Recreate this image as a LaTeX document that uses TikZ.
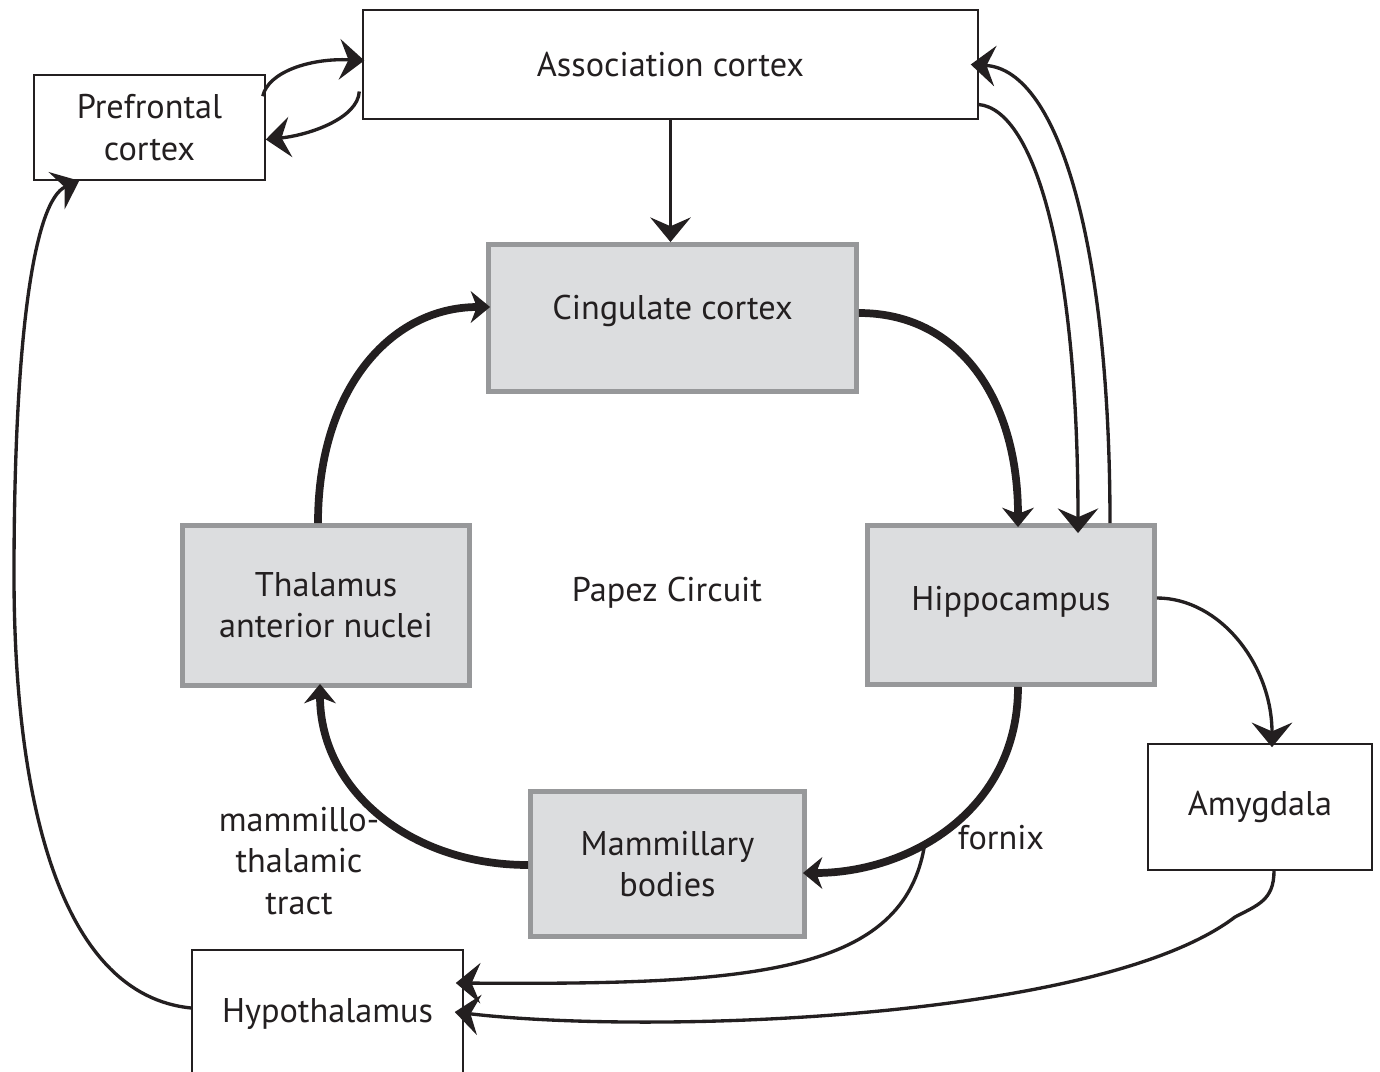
\documentclass[tikz,border=0pt]{standalone}
\usepackage{fontspec}
\setmainfont{PT Sans}
\usetikzlibrary{arrows.meta,calc}

\definecolor{inkblack}{HTML}{231F20}
\definecolor{circuitgray}{HTML}{DCDDDF}
\definecolor{circuitedge}{HTML}{97989A}

\tikzset{
	plainbox/.style={draw=inkblack, line width=0.9pt, fill=white, inner sep=0pt, align=center},
	circuitbox/.style={draw=circuitedge, line width=2.8pt, fill=circuitgray, inner sep=0pt, align=center},
	thinarrow/.style={draw=inkblack, line width=1.9pt, -{Stealth[length=14pt,width=23pt,inset=5pt]}},
	thickarrow/.style={draw=inkblack, line width=4.4pt, -{Stealth[length=11pt,width=18pt,inset=3.5pt]}},
	tag/.style={align=center}
}

\begin{document}
\begin{tikzpicture}[x=0.02cm, y=-0.02cm, every node/.style={font=\fontsize{19.5}{23.5}\selectfont, text=inkblack}]
	\useasboundingbox (0,0) rectangle (1380,1072);

	%outer boxes
	\node[plainbox, minimum width=12.3cm, minimum height=2.18cm] (assoc) at (670.5,64.5) {Association cortex};
	\node[plainbox, minimum width=4.62cm, minimum height=2.1cm] (pref) at (149.5,127.5) {Prefrontal\\cortex};
	\node[plainbox, minimum width=4.48cm, minimum height=2.52cm] (amyg) at (1260,807) {Amygdala};
	\node[plainbox, minimum width=5.42cm, minimum height=2.56cm] (hypo) at (327.5,1014) {Hypothalamus};

	%Papez circuit boxes
	\node[circuitbox, minimum width=7.36cm, minimum height=2.94cm, text depth=12pt] (cing) at (672.5,318) {Cingulate cortex};
	\node[circuitbox, minimum width=5.74cm, minimum height=3.2cm] (thal) at (326,605.5) {Thalamus\\anterior nuclei};
	\node[circuitbox, minimum width=5.74cm, minimum height=3.18cm, text depth=8pt] (hipp) at (1011,605) {Hippocampus};
	\node[circuitbox, minimum width=5.48cm, minimum height=2.9cm] (mamm) at (667.5,864) {Mammillary\\bodies};

	%free labels
	\node[tag] (papez) at (667,593) {Papez Circuit};
	\node[tag] (tract) at (299,861) {mammillo-\\thalamic\\tract};
	\node[tag] (fornixlabel) at (1001,838) {fornix};

	%the circuit
	\draw[thickarrow] ($(cing.east)+(0,-5)$) .. controls (960,313) and (1018,400) .. ($(hipp.north)+(7,4)$);
	\draw[thickarrow] ($(hipp.south)+(7,0)$) .. controls (1018,810) and (910,873) .. coordinate[pos=0.6] (fornixroot) ($(mamm.east)+(-4,9)$);
	\draw[thickarrow] ($(mamm.west)+(0,1)$) .. controls (410,865) and (320,790) .. ($(thal.south)+(-6,-4)$);
	\draw[thickarrow] ($(thal.north)+(-8,0)$) .. controls (318,390) and (390,307) .. ($(cing.west)+(4,-11)$);

	%association cortex links
	\draw[thinarrow] (assoc.south) -- (assoc.south |- cing.north);
	\draw[thinarrow] ($(pref.north east)+(-3,22)$) .. controls (268,72) and (310,58) .. ($(assoc.west)+(2,-4)$);
	\draw[thinarrow] ($(assoc.west)+(-3,27)$) .. controls (358,118) and (310,135) .. ($(pref.east)+(0,12)$);
	\draw[thinarrow] ($(assoc.east)+(0,40)$) .. controls (1035,110) and (1078,260) .. ($(hipp.north)+(67,10)$);
	\draw[thinarrow] ($(hipp.north)+(99,0)$) .. controls (1110,250) and (1060,70) .. ($(assoc.east)+(-8,0)$);

	%amygdala and hypothalamus
	\draw[thinarrow] ($(hipp.east)+(0,-7)$) .. controls (1220,598) and (1272,665) .. ($(amyg.north)+(12,4)$);
	\draw[thinarrow] ($(amyg.south)+(14,0)$) .. controls (1274,900) and (1258,905) .. (1235,917) .. controls (1100,1020) and (650,1035) .. ($(hypo.east)+(-9,-2)$);
	\draw[thinarrow] (fornixroot) .. controls (905,975) and (750,985) .. ($(hypo.east)+(-8,-31)$);
	\draw[thinarrow] ($(hypo.west)+(0,-6)$) .. controls (60,995) and (14,800) .. (14,575) .. controls (14,330) and (35,200) .. ($(pref.south west)+(46,0)$);
\end{tikzpicture}
\end{document}
